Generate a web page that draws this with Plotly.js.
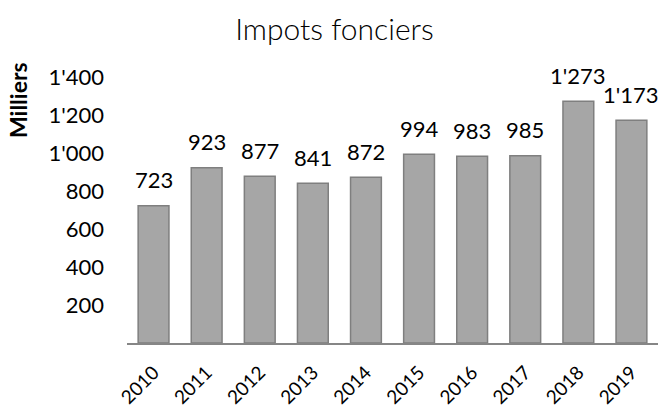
<!DOCTYPE html>
<html><head><meta charset="utf-8">
<script src="https://cdn.plot.ly/plotly-3.0.1.min.js"></script>
<style>body{margin:0;background:#fff}#c{width:669px;height:420px}</style>
</head><body><div id="c"></div>
<script>
const years = ['2010','2011','2012','2013','2014','2015','2016','2017','2018','2019'];
const values = [723, 923, 877, 841, 872, 994, 983, 985, 1273, 1173];
const valueLabels = ['723','923','877','841','872','994','983','985',"1'273","1'173"];
const yTickVals = [200, 400, 600, 800, 1000, 1200, 1400];
const yTickText = ['200','400','600','800',"1'000","1'200","1'400"];

const FONT = 'Lato, "Open Sans", sans-serif';
const trace = {
  type: 'bar', x: years, y: values,
  marker: {color: '#a6a6a6', line: {color: '#7f7f7f', width: 1.5}},
  hoverinfo: 'none'
};
const ann = years.map((yr, i) => ({
  x: i, y: values[i], text: valueLabels[i], showarrow: false,
  xref: 'x', yref: 'y', yanchor: 'middle', yshift: 26,
  font: {family: FONT, size: 22, color: '#000'}
}));
ann.push({
  xref: 'paper', yref: 'paper', x: -0.205, y: 0.853, text: '<b>Milliers</b>',
  textangle: -90, showarrow: false, xanchor: 'center', yanchor: 'middle',
  font: {family: FONT, size: 23, color: '#000'}
});
const layout = {
  width: 669, height: 420,
  margin: {l: 127, r: 11, t: 58, b: 77},
  paper_bgcolor: '#fff', plot_bgcolor: '#fff',
  showlegend: false, bargap: 0.42,
  title: {text: 'Impots fonciers', x: 0.5, xanchor: 'center', y: 0.93, yanchor: 'middle',
    font: {family: FONT, size: 30, color: '#000', weight: 300}},
  xaxis: {type: 'category', range: [-0.5, 9.5], autorange: false, tickangle: -45,
    showgrid: false, zeroline: false, ticklabelstandoff: 9,
    showline: true, linecolor: '#868686', linewidth: 2, ticks: '',
    tickfont: {family: FONT, size: 19, color: '#000'}},
  yaxis: {range: [0, 1500], autorange: false, tickvals: yTickVals, ticktext: yTickText, showgrid: false,
    zeroline: false, showline: false, ticks: '', ticklabelstandoff: 22,
    tickfont: {family: FONT, size: 22, color: '#000'}},
  annotations: ann
};
Plotly.newPlot('c', [trace], layout, {staticPlot: true, displayModeBar: false});
</script></body></html>
